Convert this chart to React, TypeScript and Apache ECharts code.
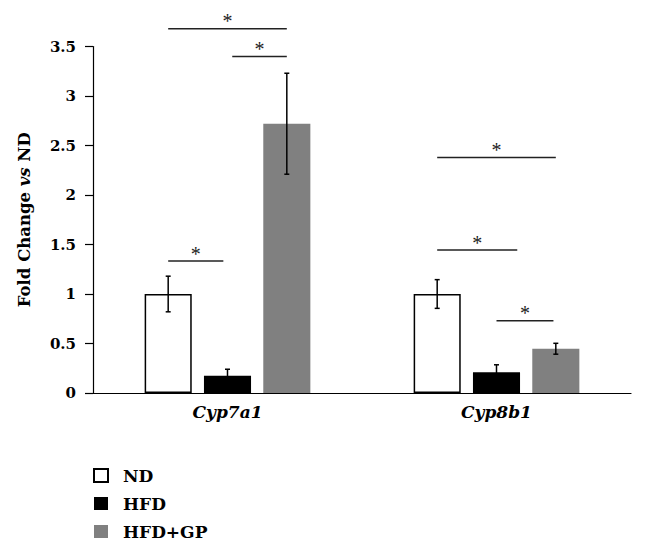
import React, { useEffect, useRef } from "react";
import * as echarts from "echarts";

const categories = ["Cyp7a1", "Cyp8b1"];
const groupNames = ["ND", "HFD", "HFD+GP"];
const ndValues = [1.0, 1.0];
const hfdValues = [0.175, 0.21];
const gpValues = [2.72, 0.447];
const ndErrors = [0.18, 0.145];
const hfdErrors = [0.065, 0.075];
const gpErrors = [0.51, 0.055];
const yTicks = [0, 3.5, 0.5]; // min, max, interval

// significance brackets: category, from bar, to bar, height
const sigCategory = [0, 0, 0, 1, 1, 1];
const sigFrom = [0, 1.08, 0, 0, 0, 1];
const sigTo = [2, 2, 0.93, 2, 1.35, 1.96];
const sigHeight = [3.68, 3.4, 1.333, 2.38, 1.444, 0.73];

const SERIF = '"DejaVu Serif", serif';
const BAR_W = 0.175;
const BAR_GAP = 0.26;
const SLOT = BAR_W * (1 + BAR_GAP);

function barX(api: any, cat: number, pos: number) {
  const c = api.coord([cat, 0]);
  const band = api.size([1, 0])[0];
  return c[0] + (pos - 1) * band * SLOT;
}

export default function App() {
  const ref = useRef<HTMLDivElement>(null);
  useEffect(() => {
    if (!ref.current) return;
    const chart = echarts.init(ref.current, undefined, { renderer: "svg" });
    const values = [ndValues, hfdValues, gpValues];
    const errors = [ndErrors, hfdErrors, gpErrors];
    const errData: number[][] = [];
    values.forEach((vals, si) =>
      vals.forEach((v, ci) => errData.push([ci, si, v, errors[si][ci]]))
    );
    const sigData = sigCategory.map((c, i) => [c, sigFrom[i], sigTo[i], sigHeight[i]]);
    const colors = ["#ffffff", "#000000", "#808080"];
    chart.setOption({
      animation: false,
      grid: { left: 83, right: 16, top: 38.5, bottom: 161 },
      legend: {
        data: groupNames,
        orient: "vertical",
        left: 85,
        top: 459,
        padding: 0,
        itemWidth: 14,
        itemHeight: 13,
        itemGap: 11,
        icon: "rect",
        textStyle: {
          fontFamily: SERIF,
          fontWeight: "bold",
          fontSize: 17,
          color: "#000",
          padding: [0, 0, 0, 10],
        },
      },
      xAxis: {
        type: "category",
        data: categories,
        axisLine: { lineStyle: { color: "#000", width: 1.2 } },
        axisTick: { show: false },
        axisLabel: {
          margin: 10,
          fontFamily: SERIF,
          fontWeight: "bold",
          fontStyle: "italic",
          fontSize: 17,
          color: "#000",
        },
      },
      yAxis: {
        type: "value",
        min: yTicks[0],
        max: yTicks[1],
        interval: yTicks[2],
        splitLine: { show: false },
        axisLine: { show: true, lineStyle: { color: "#000", width: 1.2 } },
        axisTick: { show: true, length: 8, lineStyle: { color: "#000", width: 1.2 } },
        axisLabel: {
          margin: 17,
          fontFamily: SERIF,
          fontWeight: "bold",
          fontSize: 15,
          color: "#000",
        },
        name: "Fold Change {i|vs} ND",
        nameLocation: "middle",
        nameGap: 60,
        nameTextStyle: {
          fontFamily: SERIF,
          fontWeight: "bold",
          fontSize: 16.5,
          color: "#000",
          rich: {
            i: {
              fontFamily: SERIF,
              fontWeight: "bold",
              fontStyle: "italic",
              fontSize: 16.5,
              color: "#000",
            },
          },
        },
      },
      series: [
        ...values.map((vals, si) => ({
          type: "bar",
          name: groupNames[si],
          data: vals,
          barWidth: BAR_W * 100 + "%",
          barGap: BAR_GAP * 100 + "%",
          itemStyle: {
            color: colors[si],
            borderColor: si === 0 ? "#000" : colors[si],
            borderWidth: si === 0 ? 1.5 : 0,
          },
        })),
        {
          type: "custom",
          name: "errors",
          data: errData,
          encode: { x: 0, y: 2 },
          clip: false,
          z: 5,
          renderItem: (params: any, api: any) => {
            const cat = api.value(0);
            const pos = api.value(1);
            const v = api.value(2);
            const e = api.value(3);
            const x = barX(api, cat, pos);
            const yt = api.coord([cat, v + e])[1];
            const yb = api.coord([cat, v - e])[1];
            const st = { stroke: "#000", lineWidth: 1.5 };
            const cap = 2.5;
            return {
              type: "group",
              children: [
                { type: "line", shape: { x1: x, y1: yt, x2: x, y2: yb }, style: st },
                { type: "line", shape: { x1: x - cap, y1: yt, x2: x + cap, y2: yt }, style: st },
                { type: "line", shape: { x1: x - cap, y1: yb, x2: x + cap, y2: yb }, style: st },
              ],
            };
          },
        },
        {
          type: "custom",
          name: "significance",
          data: sigData,
          encode: { x: 0, y: 3 },
          clip: false,
          z: 5,
          renderItem: (params: any, api: any) => {
            const cat = api.value(0);
            const x1 = barX(api, cat, api.value(1));
            const x2 = barX(api, cat, api.value(2));
            const y = api.coord([cat, api.value(3)])[1];
            return {
              type: "group",
              children: [
                {
                  type: "line",
                  shape: { x1, y1: y, x2, y2: y },
                  style: { stroke: "#222", lineWidth: 1.5 },
                },
                {
                  type: "text",
                  x: (x1 + x2) / 2,
                  y: y - 7.5,
                  style: {
                    text: "*",
                    font: 'normal 20px "Liberation Serif"',
                    fill: "#222",
                    align: "center",
                    verticalAlign: "middle",
                  },
                },
              ],
            };
          },
        },
      ],
    });
    return () => chart.dispose();
  }, []);
  return <div ref={ref} style={{ width: 639, height: 546 }} />;
}
